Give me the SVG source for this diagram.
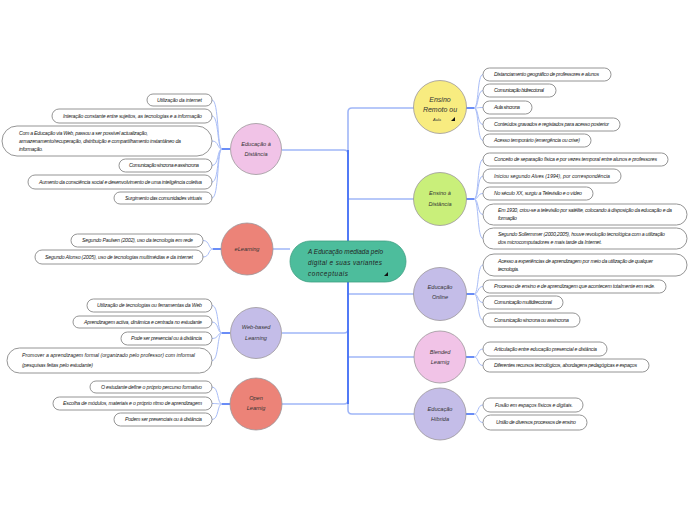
<svg xmlns="http://www.w3.org/2000/svg" width="696" height="520" viewBox="0 0 696 520">
<style>
.pill{fill:#fff;stroke:#7a7a7a;stroke-width:0.8}
.t{font-family:"Liberation Sans",Arial,sans-serif;font-style:italic;font-size:5.2px;fill:#222}
.ct{font-family:"Liberation Sans",Arial,sans-serif;font-style:italic;font-size:5.6px;fill:#333;text-anchor:middle}
.circ{stroke:#9c979b;stroke-width:0.8}
.lc{fill:none;stroke:#a9bdf7;stroke-width:1}
.tr{fill:none;stroke:#a0b6f7;stroke-width:1.6}
.dk{fill:none;stroke:#3a68f5;stroke-width:1.6}
</style>
<rect width="696" height="520" fill="#fff"/>
<g id="connectors">
<path class="tr" d="M414,108 H352 Q348,108 348,112 V410 Q348,414 352,414 H414"/>
<path class="tr" d="M348,199 H414 M348,294 H414 M348,357 H414"/>
<path class="tr" d="M348,154 Q348,150 344,150 H282 M348,329 Q348,333 344,333 H282 M348,400 Q348,404 344,404 H282 M290,249 H273"/>
<path class="dk" d="M348,241 V150 M348,282 V404" stroke-width="1.2"/>
<path class="dk" d="M466,108 H474 M466,199 H474 M466,294 H474 M466,357 H474 M466,414 H474"/>
<path class="dk" d="M230,149 H222 M221,249 H213 M230,333 H222 M230,404 H222"/>
<path class="lc" d="M474,108 C479,108 477,74.5 483,74.5 M474,108 C479,108 477,90.5 483,90.5 M474,108 C479,108 477,107.5 483,107.5 M474,108 C479,108 477,124.5 483,124.5 M474,108 C479,108 477,140.5 483,140.5"/>
<path class="lc" d="M474,199 C479,199 477,159.5 483,159.5 M474,199 C479,199 477,176 483,176 M474,199 C479,199 477,193.5 483,193.5 M474,199 C479,199 477,214.5 483,214.5 M474,199 C479,199 477,238.5 483,238.5"/>
<path class="lc" d="M474,294 C479,294 477,265 483,265 M474,294 C479,294 477,286.5 483,286.5 M474,294 C479,294 477,302.5 483,302.5 M474,294 C479,294 477,320 483,320"/>
<path class="lc" d="M474,357 C479,357 477,349 483,349 M474,357 C479,357 477,365.5 483,365.5"/>
<path class="lc" d="M474,414 C479,414 477,405 483,405 M474,414 C479,414 477,422.5 483,422.5"/>
<path class="lc" d="M222,149 C217,149 219,100 212,100 M222,149 C217,149 219,116 212,116 M222,149 C217,149 219,141 212,141 M222,149 C217,149 219,165.5 212,165.5 M222,149 C217,149 219,182 212,182 M222,149 C217,149 219,198 212,198"/>
<path class="lc" d="M213,249 C208,249 210,240.5 203,240.5 M213,249 C208,249 210,257 203,257"/>
<path class="lc" d="M222,333 C217,333 219,305.5 212,305.5 M222,333 C217,333 219,322 212,322 M222,333 C217,333 219,338.5 212,338.5 M222,333 C217,333 219,360.5 212,360.5"/>
<path class="lc" d="M222,404 C217,404 219,387 212,387 M222,404 C217,404 219,403.5 212,403.5 M222,404 C217,404 219,419.5 212,419.5"/>
</g>
<g id="center">
<rect x="290" y="241" width="116" height="41" rx="20.5" fill="#4dbd9c" stroke="#3e9e82" stroke-width="0.8"/>
<text class="t" style="font-size:6.4px" x="308" y="253.5" textLength="75">A Educação mediada pelo</text>
<text class="t" style="font-size:6.4px" x="308" y="264.5" textLength="74">digital e suas variantes</text>
<text class="t" style="font-size:6.4px" x="308" y="275.5" textLength="40">conceptuais</text>
<polygon points="384,276 388,272 388,276" fill="#111"/>
</g>
<g id="n-ead-left">
<circle class="circ" cx="256" cy="149" r="25.5" fill="#f1c3e7"/>
<text class="ct" x="256" y="146">Educação à</text>
<text class="ct" x="256" y="156">Distância</text>
</g>
<g id="n-elearning">
<circle class="circ" cx="247" cy="249" r="26" fill="#ec8378"/>
<text class="ct" x="247" y="251">eLearning</text>
</g>
<g id="n-web">
<circle class="circ" cx="256" cy="333" r="25.5" fill="#c4bde8"/>
<text class="ct" x="256" y="329">Web-based</text>
<text class="ct" x="256" y="340">Learning</text>
</g>
<g id="n-open">
<circle class="circ" cx="256" cy="404" r="26" fill="#ec8378"/>
<text class="ct" x="256" y="400">Open</text>
<text class="ct" x="256" y="410">Learnig</text>
</g>
<g id="n-remoto">
<circle class="circ" cx="440" cy="107" r="26.5" fill="#f8ec80"/>
<text class="ct" style="font-size:7px" x="440" y="101.5">Ensino</text>
<text class="ct" style="font-size:7px" x="440" y="111.5">Remoto ou</text>
<text class="ct" style="font-size:4px" x="437" y="120.5">Aula</text>
<polygon points="451,121 455,117 455,121" fill="#111"/>
</g>
<g id="n-ead-right">
<circle class="circ" cx="440" cy="199" r="26.5" fill="#c9ef7a"/>
<text class="ct" x="440" y="195">Ensino à</text>
<text class="ct" x="440" y="206">Distância</text>
</g>
<g id="n-online">
<circle class="circ" cx="440" cy="294" r="26.5" fill="#c4bde8"/>
<text class="ct" x="440" y="289">Educação</text>
<text class="ct" x="440" y="299">Online</text>
</g>
<g id="n-blended">
<circle class="circ" cx="440" cy="357" r="26" fill="#f1c3e7"/>
<text class="ct" x="440" y="354">Blended</text>
<text class="ct" x="440" y="364">Learnig</text>
</g>
<g id="n-hibrida">
<circle class="circ" cx="440" cy="414" r="26" fill="#c4bde8"/>
<text class="ct" x="440" y="411">Educação</text>
<text class="ct" x="440" y="421">Híbrida</text>
</g>
<g id="c-l1"><rect class="pill" x="147" y="94" width="65" height="12" rx="6"/><text class="t" x="157" y="101.8" textLength="45">Utilização da internet</text></g>
<g id="c-l2"><rect class="pill" x="52" y="109" width="160" height="14" rx="7"/><text class="t" x="63" y="117.8" textLength="139">Interação constante entre sujeitos, as tecnologias e a informação</text></g>
<g id="c-l3"><rect class="pill" x="2" y="126" width="210" height="30" rx="15"/>
<text class="t" x="19" y="134.8" textLength="129">Com a Educação via Web, passou a ser possível actualização,</text>
<text class="t" x="19" y="143.3" textLength="162">armazenamento/recuperação, distribuição e compartilhamento instantâneo da</text>
<text class="t" x="19" y="151.3" textLength="24">informação.</text></g>
<g id="c-l4"><rect class="pill" x="119" y="159" width="93" height="13" rx="6.5"/><text class="t" x="129" y="167.3" textLength="70">Comunicação síncrona e assíncrona</text></g>
<g id="c-l5"><rect class="pill" x="28" y="175" width="184" height="14" rx="7"/><text class="t" x="39" y="183.8" textLength="163">Aumento da consciência social e desenvolvimento de uma inteligência coletiva</text></g>
<g id="c-l6"><rect class="pill" x="114" y="192" width="98" height="12" rx="6"/><text class="t" x="125" y="199.8" textLength="77">Surgimento das comunidades virtuais</text></g>
<g id="c-e1"><rect class="pill" x="71" y="234" width="132" height="13" rx="6.5"/><text class="t" x="82" y="242.3" textLength="111">Segundo Paulsen (2002), uso da tecnologia em rede</text></g>
<g id="c-e2"><rect class="pill" x="35" y="250" width="168" height="14" rx="7"/><text class="t" x="45" y="258.8" textLength="148">Segundo Alonso (2005), uso de tecnologias multimédias e da internet</text></g>
<g id="c-w1"><rect class="pill" x="87" y="299" width="125" height="13" rx="6.5"/><text class="t" x="97" y="307.3" textLength="105">Utilização de tecnologias ou ferramentas da Web</text></g>
<g id="c-w2"><rect class="pill" x="73" y="316" width="139" height="12" rx="6"/><text class="t" x="84" y="323.8" textLength="118">Aprendizagem activa, dinâmica e centrada no estudante</text></g>
<g id="c-w3"><rect class="pill" x="121" y="332" width="91" height="13" rx="6.5"/><text class="t" x="131" y="340.3" textLength="71">Pode ser presencial ou à distância</text></g>
<g id="c-w4"><rect class="pill" x="7" y="348" width="205" height="25" rx="12.5"/>
<text class="t" x="22" y="357" textLength="173">Promover a aprendizagem formal (organizado pelo professor) com informal</text>
<text class="t" x="22" y="366.5" textLength="71">(pesquisas feitas pelo estudante)</text></g>
<g id="c-o1"><rect class="pill" x="90" y="381" width="122" height="12" rx="6"/><text class="t" x="101" y="388.8" textLength="101">O estudante define o próprio percurso formativo</text></g>
<g id="c-o2"><rect class="pill" x="53" y="397" width="159" height="13" rx="6.5"/><text class="t" x="63" y="405.3" textLength="139">Escolha de módulos, materiais e o próprio ritmo de aprendizagem</text></g>
<g id="c-o3"><rect class="pill" x="114" y="413" width="98" height="13" rx="6.5"/><text class="t" x="125" y="421.3" textLength="77">Podem ser presenciais ou à distância</text></g>
<g id="c-r1"><rect class="pill" x="483" y="68" width="128" height="13" rx="6.5"/><text class="t" x="494" y="76.3" textLength="105">Distanciamento geográfico de professores e alunos</text></g>
<g id="c-r2"><rect class="pill" x="483" y="84" width="73" height="13" rx="6.5"/><text class="t" x="494" y="92.3" textLength="50">Comunicação bidireccional</text></g>
<g id="c-r3"><rect class="pill" x="483" y="101" width="49" height="13" rx="6.5"/><text class="t" x="494" y="109.3" textLength="26">Aula síncrona</text></g>
<g id="c-r4"><rect class="pill" x="483" y="118" width="137" height="13" rx="6.5"/><text class="t" x="494" y="126.3" textLength="115">Conteúdos gravados e registados para acesso posterior</text></g>
<g id="c-r5"><rect class="pill" x="483" y="134" width="108" height="13" rx="6.5"/><text class="t" x="494" y="142.3" textLength="86">Acesso temporário (emergência ou crise)</text></g>
<g id="c-d1"><rect class="pill" x="483" y="153" width="185" height="13" rx="6.5"/><text class="t" x="494" y="161.3" textLength="163">Conceito de separação física e por vezes temporal entre alunos e professores</text></g>
<g id="c-d2"><rect class="pill" x="483" y="169" width="138" height="14" rx="7"/><text class="t" x="494" y="177.8" textLength="116">Iniciou segundo Alves (1994), por correspondência</text></g>
<g id="c-d3"><rect class="pill" x="483" y="187" width="110" height="13" rx="6.5"/><text class="t" x="494" y="195.3" textLength="88">No século XX, surgiu a Televisão e o vídeo</text></g>
<g id="c-d4"><rect class="pill" x="483" y="204" width="204" height="21" rx="10.5"/>
<text class="t" x="498" y="211.8" textLength="174">Em 1930, criou-se a televisão por satélite, colocando à disposição da educação e da</text>
<text class="t" x="498" y="219.8" textLength="19">formação</text></g>
<g id="c-d5"><rect class="pill" x="483" y="228" width="204" height="21" rx="10.5"/>
<text class="t" x="498" y="235.8" textLength="167">Segundo Sollermmer (2000,2005), houve revolução tecnológica com a utilização</text>
<text class="t" x="498" y="243.8" textLength="104">dos microcomputadores e mais tarde da Internet.</text></g>
<g id="c-n1"><rect class="pill" x="483" y="254" width="204" height="22" rx="11"/>
<text class="t" x="498" y="262.8" textLength="155">Acesso a experiências de aprendizagem por meio da utilização de qualquer</text>
<text class="t" x="498" y="270.8" textLength="21">tecnologia.</text></g>
<g id="c-n2"><rect class="pill" x="483" y="280" width="183" height="13" rx="6.5"/><text class="t" x="494" y="288.3" textLength="161">Processo de ensino e de aprendizagem que acontecem totalmente em rede.</text></g>
<g id="c-n3"><rect class="pill" x="483" y="296" width="80" height="13" rx="6.5"/><text class="t" x="494" y="304.3" textLength="58">Comunicação multidireccional</text></g>
<g id="c-n4"><rect class="pill" x="483" y="313" width="97" height="14" rx="7"/><text class="t" x="494" y="321.8" textLength="75">Comunicação síncrona ou assíncrona</text></g>
<g id="c-b1"><rect class="pill" x="483" y="342" width="124" height="14" rx="7"/><text class="t" x="494" y="350.8" textLength="103">Articulação entre educação presencial e distância</text></g>
<g id="c-b2"><rect class="pill" x="483" y="359" width="166" height="13" rx="6.5"/><text class="t" x="494" y="367.3" textLength="143">Diferentes recursos tecnológicos, abordagens pedagógicas e espaços</text></g>
<g id="c-h1"><rect class="pill" x="483" y="398" width="100" height="14" rx="7"/><text class="t" x="495" y="406.8" textLength="78">Fusão em espaços físicos e digitais.</text></g>
<g id="c-h2"><rect class="pill" x="483" y="415" width="104" height="15" rx="7.5"/><text class="t" x="496" y="424.3" textLength="80">União de diversos processos de ensino</text></g>
</svg>
